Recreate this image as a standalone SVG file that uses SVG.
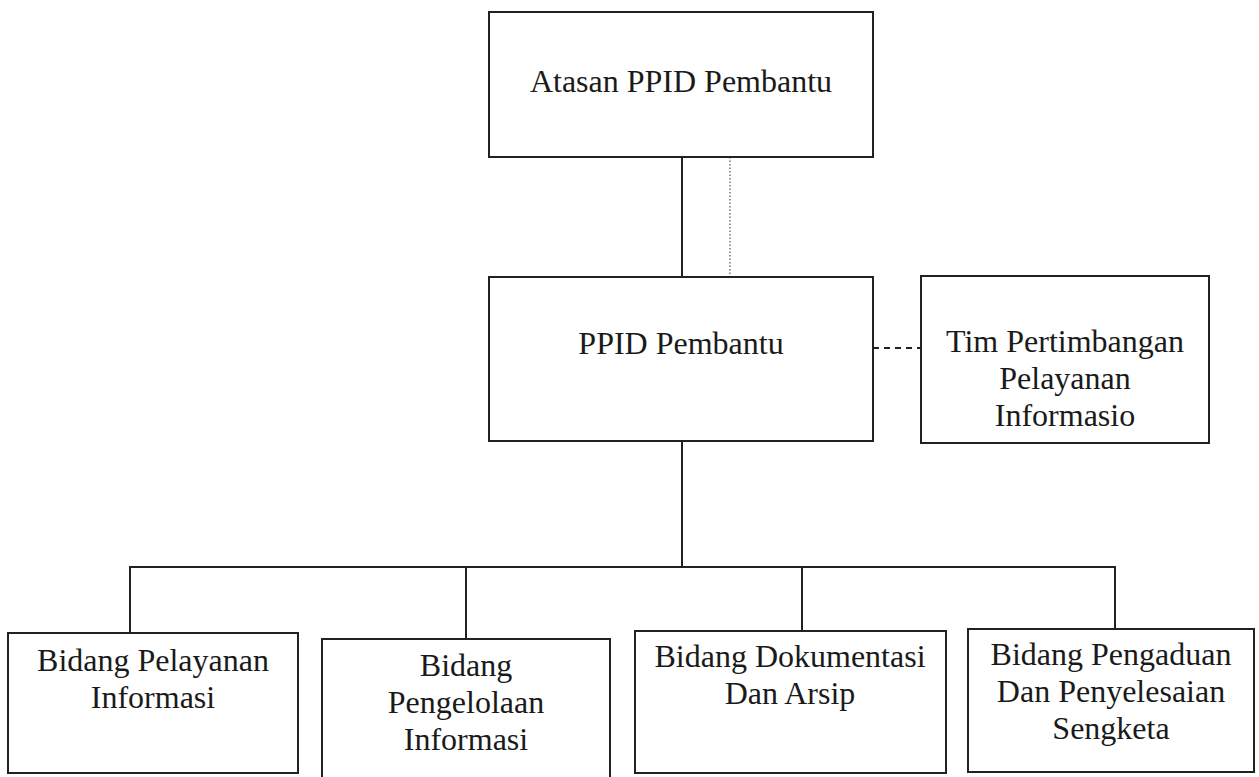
<svg xmlns="http://www.w3.org/2000/svg" width="1259" height="777" viewBox="0 0 1259 777">
<style>
.box{fill:#fff;stroke:#222;stroke-width:2}
.t{font-family:"Liberation Serif","Times New Roman",serif;font-size:32px;fill:#1a1a1a;text-anchor:middle}
.ln{fill:none;stroke:#222;stroke-width:2}
.dot{fill:none;stroke:#555;stroke-width:1.2;stroke-dasharray:1.5 2}
.dash{fill:none;stroke:#222;stroke-width:2;stroke-dasharray:6 5}
</style>
<rect width="1259" height="777" fill="#fff"/>
<g id="connectors">
<line class="ln" x1="682" y1="157" x2="682" y2="277"/>
<line class="dot" x1="730" y1="157" x2="730" y2="277"/>
<line class="dash" x1="873" y1="348" x2="921" y2="348"/>
<line class="ln" x1="682" y1="441" x2="682" y2="567"/>
<polyline class="ln" points="130,633 130,567 1115,567 1115,629"/>
<line class="ln" x1="466" y1="567" x2="466" y2="639"/>
<line class="ln" x1="802" y1="567" x2="802" y2="631"/>
</g>
<g id="atasan">
<rect class="box" x="489" y="12" width="384" height="145"/>
<text class="t" x="681" y="92">Atasan PPID Pembantu</text>
</g>
<g id="ppid">
<rect class="box" x="489" y="277" width="384" height="164"/>
<text class="t" x="681" y="354">PPID Pembantu</text>
</g>
<g id="tim">
<rect class="box" x="921" y="276" width="288" height="167"/>
<text class="t" x="1065" y="352">Tim Pertimbangan</text>
<text class="t" x="1065" y="389">Pelayanan</text>
<text class="t" x="1065" y="426">Informasio</text>
</g>
<g id="pelayanan">
<rect class="box" x="8" y="633" width="290" height="140"/>
<text class="t" x="153" y="671">Bidang Pelayanan</text>
<text class="t" x="153" y="708">Informasi</text>
</g>
<g id="pengelolaan">
<rect class="box" x="322" y="639" width="288" height="145"/>
<text class="t" x="466" y="676">Bidang</text>
<text class="t" x="466" y="713">Pengelolaan</text>
<text class="t" x="466" y="750">Informasi</text>
</g>
<g id="dokumentasi">
<rect class="box" x="635" y="631" width="311" height="142"/>
<text class="t" x="790" y="667">Bidang Dokumentasi</text>
<text class="t" x="790" y="704">Dan Arsip</text>
</g>
<g id="pengaduan">
<rect class="box" x="968" y="629" width="286" height="143"/>
<text class="t" x="1111" y="665">Bidang Pengaduan</text>
<text class="t" x="1111" y="702">Dan Penyelesaian</text>
<text class="t" x="1111" y="739">Sengketa</text>
</g>
</svg>
